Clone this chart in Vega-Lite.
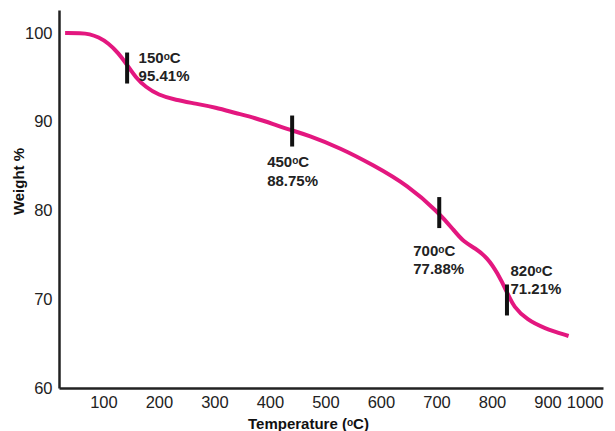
{
  "$schema": "https://vega.github.io/schema/vega-lite/v6.json",
  "width": 544,
  "height": 378,
  "autosize": {"type": "none"},
  "padding": {"left": 59, "top": 10, "right": 12, "bottom": 43},
  "background": "white",
  "config": {
    "view": {"stroke": null},
    "font": "Liberation Sans",
    "axis": {"grid": false, "ticks": false, "tickSize": 0, "domainColor": "#222", "domainWidth": 2.5, "labelFont": "Liberation Sans", "labelFontSize": 16.5, "labelColor": "#222", "titleFont": "Liberation Sans", "titleFontSize": 15, "titleFontWeight": "bold", "titleColor": "#111"},
    "text": {"lineBreak": "\n"}
  },
  "datasets": {
    "curve": [
      {"T": 31, "W": 100.0}, {"T": 60, "W": 100.0}, {"T": 75, "W": 99.9}, {"T": 91, "W": 99.55}, {"T": 109, "W": 98.87},
      {"T": 127, "W": 97.75}, {"T": 143, "W": 96.4}, {"T": 158, "W": 95.0}, {"T": 176, "W": 93.92},
      {"T": 199, "W": 93.02}, {"T": 230, "W": 92.45}, {"T": 266, "W": 92.06}, {"T": 302, "W": 91.61},
      {"T": 338, "W": 90.99}, {"T": 374, "W": 90.42}, {"T": 406, "W": 89.75}, {"T": 437, "W": 89.07},
      {"T": 468, "W": 88.51}, {"T": 527, "W": 87.04}, {"T": 586, "W": 85.13}, {"T": 648, "W": 82.87},
      {"T": 705, "W": 79.72}, {"T": 731, "W": 77.8}, {"T": 749, "W": 76.45}, {"T": 770, "W": 75.77},
      {"T": 792, "W": 74.65}, {"T": 810, "W": 72.96}, {"T": 828, "W": 70.7}, {"T": 839, "W": 69.13},
      {"T": 864, "W": 67.66}, {"T": 893, "W": 66.76}, {"T": 938, "W": 65.86}
    ],
    "marks": [
      {"id": 1, "T": 142.7, "W": 96.06, "label": "150ᵒC\n95.41%"},
      {"id": 2, "T": 440, "W": 88.96, "label": "450ᵒC\n88.75%"},
      {"id": 3, "T": 705, "W": 79.77, "label": "700ᵒC\n77.88%"},
      {"id": 4, "T": 827, "W": 69.92, "label": "820ᵒC\n71.21%"}
    ]
  },
  "encoding": {
    "x": {"field": "T", "type": "quantitative", "scale": {"domain": [20, 1000], "nice": false, "zero": false},
      "axis": {"values": [100, 200, 300, 400, 500, 600, 700, 800, 900, 1000], "format": "d", "labelPadding": 6, "title": "Temperature (ᵒC)", "titleX": 249, "titleY": 35, "titleAlign": "center", "titleBaseline": "middle"}},
    "y": {"field": "W", "type": "quantitative", "scale": {"domain": [60, 102.6], "nice": false, "zero": false},
      "axis": {"values": [60, 70, 80, 90, 100], "format": "d", "labelPadding": 7, "title": "Weight %", "titleX": -41, "titleY": 171, "titleAngle": -90, "titleAlign": "center", "titleBaseline": "middle"}}
  },
  "layer": [
    {"data": {"name": "curve"}, "mark": {"type": "line", "color": "#e3177f", "strokeWidth": 4, "interpolate": "basis"}},
    {"data": {"name": "marks"}, "mark": {"type": "tick", "orient": "vertical", "size": 31, "thickness": 4, "color": "#111", "opacity": 1}},
    {"data": {"name": "marks"}, "transform": [{"filter": "datum.id == 1"}], "mark": {"type": "text", "align": "left", "baseline": "middle", "dx": 11.5, "dy": -10.5, "fontSize": 15, "fontWeight": "bold", "lineHeight": 18.5, "color": "#222"}, "encoding": {"text": {"field": "label"}}},
    {"data": {"name": "marks"}, "transform": [{"filter": "datum.id == 2"}], "mark": {"type": "text", "align": "left", "baseline": "middle", "dx": -25, "dy": 31, "fontSize": 15, "fontWeight": "bold", "lineHeight": 18.5, "color": "#222"}, "encoding": {"text": {"field": "label"}}},
    {"data": {"name": "marks"}, "transform": [{"filter": "datum.id == 3"}], "mark": {"type": "text", "align": "left", "baseline": "middle", "dx": -26, "dy": 38, "fontSize": 15, "fontWeight": "bold", "lineHeight": 18.5, "color": "#222"}, "encoding": {"text": {"field": "label"}}},
    {"data": {"name": "marks"}, "transform": [{"filter": "datum.id == 4"}], "mark": {"type": "text", "align": "left", "baseline": "middle", "dx": 3.5, "dy": -29, "fontSize": 15, "fontWeight": "bold", "lineHeight": 18.5, "color": "#222"}, "encoding": {"text": {"field": "label"}}}
  ]
}
